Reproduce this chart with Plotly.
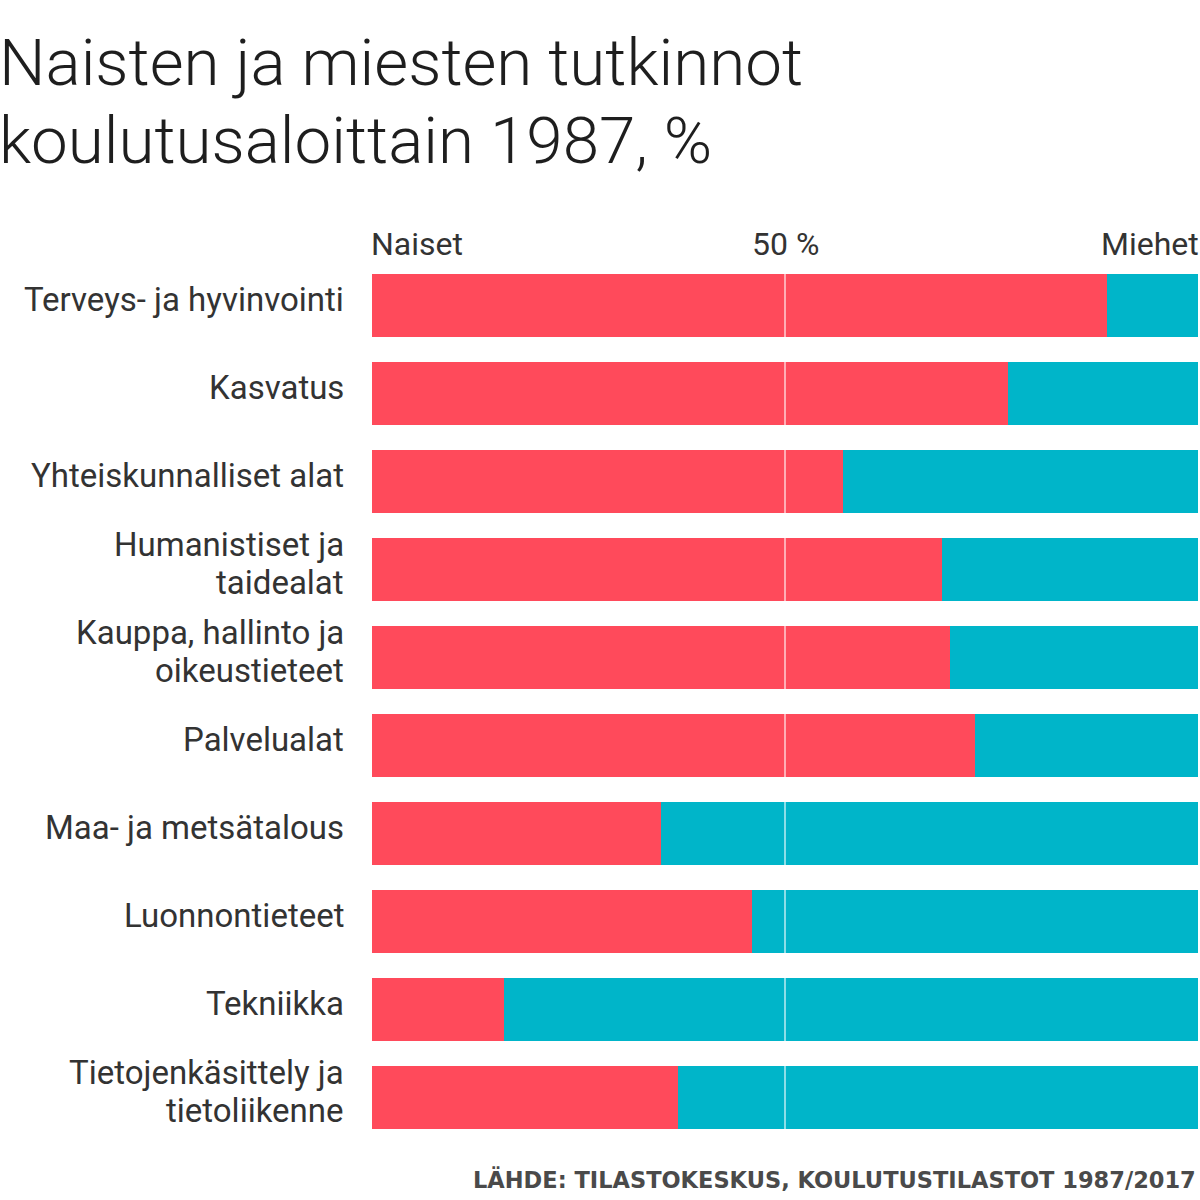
import plotly.graph_objects as go

categories = [
    "Terveys- ja hyvinvointi",
    "Kasvatus",
    "Yhteiskunnalliset alat",
    "Humanistiset ja<br>taidealat",
    "Kauppa, hallinto ja<br>oikeustieteet",
    "Palvelualat",
    "Maa- ja metsätalous",
    "Luonnontieteet",
    "Tekniikka",
    "Tietojenkäsittely ja<br>tietoliikenne",
]
naiset = [89, 77, 57, 69, 70, 73, 35, 46, 16, 37]
miehet = [100 - v for v in naiset]

RED = "#ff4a5b"
TEAL = "#00b5c9"

# plot area in pixels: x 372..1198, y 261..1144
TOP, BOT = 261, 1144
PLOT_H = BOT - TOP
PLOT_W = 826


def py(pix):
    return (BOT - pix) / PLOT_H


def px(pix):
    return (pix - 372) / PLOT_W


fig = go.Figure([
    go.Bar(name="Naiset", y=categories, x=naiset, orientation="h",
           marker=dict(color=RED, line=dict(width=0))),
    go.Bar(name="Miehet", y=categories, x=miehet, orientation="h",
           marker=dict(color=TEAL, line=dict(width=0))),
])

fig.update_layout(
    width=1200, height=1200,
    barmode="stack",
    bargap=0.285,
    showlegend=False,
    paper_bgcolor="white",
    plot_bgcolor="white",
    margin=dict(l=372, r=2, t=TOP, b=1200 - BOT),
    font=dict(family="Roboto", color="#333333", size=33),
    xaxis=dict(range=[0, 100], visible=False, fixedrange=True),
    yaxis=dict(autorange="reversed", showgrid=False, zeroline=False,
               showline=False, ticks="", showticklabels=False, fixedrange=True),
)

# category labels, right aligned left of the bars (one annotation per line)
LINE = 38
for c in categories:
    lines = c.split("<br>")
    n = len(lines)
    for i, ln in enumerate(lines):
        fig.add_annotation(text=ln, x=0, y=c, xref="x", yref="y", xanchor="right",
                           yanchor="middle", xshift=-26,
                           yshift=6 + ((n - 1) / 2 - i) * LINE,
                           showarrow=False, font=dict(size=33, color="#333333"))

# 50 % guide line over the bars
fig.add_shape(type="line", x0=50, x1=50, y0=0.0136, y1=0.9864, yref="paper",
              layer="above", line=dict(color="rgba(255,255,255,0.55)", width=2))

# column headers
for txt, xv, anchor, sh in [("Naiset", 0, "left", -3), ("50 %", 50, "center", 0),
                            ("Miehet", 100, "right", 3)]:
    fig.add_annotation(text=txt, x=xv, xref="x", y=py(244), yref="paper",
                       xanchor=anchor, yanchor="middle", xshift=sh, showarrow=False,
                       font=dict(size=32, color="#333333"))

# title
for txt, ypix in [("Naisten ja miesten tutkinnot", 62), ("koulutusaloittain 1987, %", 140)]:
    fig.add_annotation(text=txt, x=px(-3), y=py(ypix), xref="paper", yref="paper",
                       xanchor="left", yanchor="middle", showarrow=False,
                       font=dict(size=65.5, color="#1e1e1e", family="Roboto", weight=300))

# source
fig.add_annotation(text="LÄHDE: TILASTOKESKUS, KOULUTUSTILASTOT 1987/2017",
                   x=1, y=py(1179), xref="paper", yref="paper",
                   xanchor="right", yanchor="middle", showarrow=False,
                   font=dict(size=22.5, color="#4a4a4a", family="DejaVu Sans", weight="bold"))

fig.write_html("out.html", config={"displayModeBar": False},
               post_script="document.body.style.margin='0';")
